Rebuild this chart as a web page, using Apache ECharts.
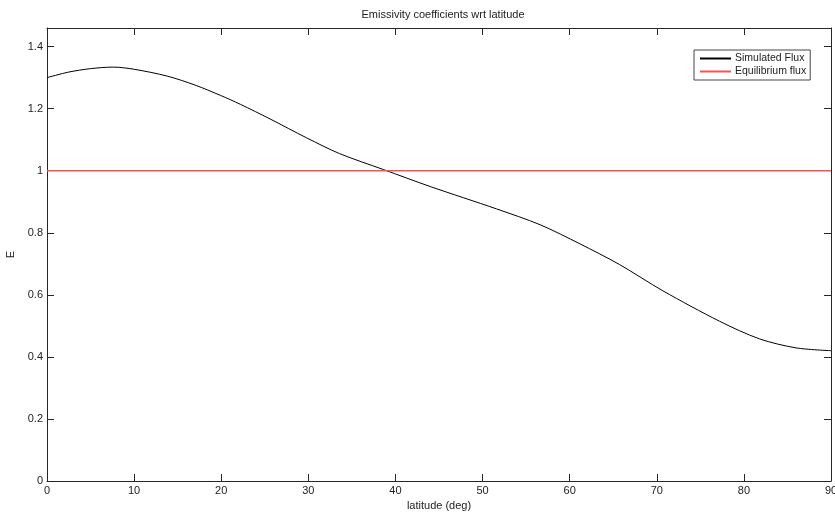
<!DOCTYPE html>
<html>
<head>
<meta charset="utf-8">
<script src="https://cdn.jsdelivr.net/npm/echarts@6/dist/echarts.min.js"></script>
<style>
  html, body { margin: 0; padding: 0; background: #fff; }
  #chart { width: 835px; height: 512px; }
</style>
</head>
<body>
<div id="chart"></div>
<script>
// latitude (deg) sampled along the simulated curve
const latitude = [0, 2.5, 5, 7.6, 10, 13.8, 17, 19.9, 22.2, 25.6, 29.8, 33.6, 38.6, 44, 51.6, 56.6, 61.2, 65.7, 70.7, 77.2, 81.8, 86, 90]
// simulated flux emissivity
const simulatedFlux = [1.300, 1.318, 1.329, 1.334, 1.327, 1.305, 1.276, 1.243, 1.214, 1.167, 1.106, 1.055, 1.004, 0.949, 0.877, 0.826, 0.764, 0.698, 0.613, 0.515, 0.458, 0.429, 0.420]
// equilibrium flux (constant)
const equilibriumLat = [0, 90]
const equilibriumFlux = [1, 1]
const xTicks = [0, 10, 20, 30, 40, 50, 60, 70, 80, 90]
const yTicks = [0, 0.2, 0.4, 0.6, 0.8, 1, 1.2, 1.4]

const chart = echarts.init(document.getElementById('chart'))
const font = 'Liberation Sans, Arial, sans-serif'
const axisColor = '#262626'
const fluxColor = '#000000'
const eqColor = '#ff5050'

function tickIn () {
  return { show: true, inside: true, length: 7, lineStyle: { color: axisColor, width: 1 } }
}
const option = {
  animation: false,
  title: {
    text: 'Emissivity coefficients wrt latitude',
    left: 438,
    top: 4,
    textAlign: 'center',
    textStyle: { fontFamily: font, fontSize: 11, fontWeight: 'normal', color: '#222' }
  },
  legend: {
    orient: 'vertical',
    left: 694,
    top: 50,
    padding: [3, 4, 3, 6],
    itemGap: 2,
    itemWidth: 31,
    itemHeight: 2,
    icon: 'rect',
    borderColor: '#444',
    borderWidth: 1,
    backgroundColor: '#fff',
    textStyle: { fontFamily: font, fontSize: 10.5, color: '#222', padding: [0, 0, 0, -1] },
    data: ['Simulated Flux', 'Equilibrium flux']
  },
  grid: {
    left: 47, right: 4, top: 28, bottom: 31,
    outerBoundsMode: 'none',
    containLabel: false
  },
  xAxis: [{
    type: 'value',
    min: 0, max: 90, interval: 10,
    name: 'latitude (deg)',
    nameLocation: 'middle',
    nameGap: 17,
    nameTextStyle: { fontFamily: font, fontSize: 11, color: '#222' },
    axisLine: { show: true, onZero: false, lineStyle: { color: axisColor } },
    axisTick: tickIn(),
    axisLabel: { fontFamily: font, fontSize: 11, color: '#222', margin: 4,
      formatter: v => xTicks.includes(v) ? String(v) : '' },
    splitLine: { show: false }
  }, {
    type: 'value', position: 'top',
    min: 0, max: 90, interval: 10,
    axisLine: { show: true, onZero: false, lineStyle: { color: axisColor } },
    axisTick: tickIn(),
    axisLabel: { show: false },
    splitLine: { show: false }
  }],
  yAxis: [{
    type: 'value',
    min: 0, max: 1.46, interval: 0.2,
    name: 'E',
    nameLocation: 'middle',
    nameGap: 29,
    nameTextStyle: { fontFamily: font, fontSize: 11, color: '#222' },
    axisLine: { show: true, onZero: false, lineStyle: { color: axisColor } },
    axisTick: tickIn(),
    axisLabel: { fontFamily: font, fontSize: 11, color: '#222', margin: 4, showMaxLabel: false,
      formatter: v => yTicks.some(t => Math.abs(t - v) < 1e-6) ? String(Math.round(v * 10) / 10) : '' },
    splitLine: { show: false }
  }, {
    type: 'value', position: 'right',
    min: 0, max: 1.46, interval: 0.2,
    axisLine: { show: true, onZero: false, lineStyle: { color: axisColor } },
    axisTick: tickIn(),
    axisLabel: { show: false },
    splitLine: { show: false }
  }],
  series: [{
    name: 'Simulated Flux',
    type: 'line',
    smooth: 0.3,
    symbol: 'none',
    lineStyle: { color: fluxColor, width: 1 },
    itemStyle: { color: fluxColor },
    data: latitude.map((x, i) => [x, simulatedFlux[i]])
  }, {
    name: 'Equilibrium flux',
    type: 'line',
    symbol: 'none',
    lineStyle: { color: eqColor, width: 1.5 },
    itemStyle: { color: eqColor },
    data: equilibriumLat.map((x, i) => [x, equilibriumFlux[i]])
  }]
}
chart.setOption(option)
</script>
</body>
</html>
